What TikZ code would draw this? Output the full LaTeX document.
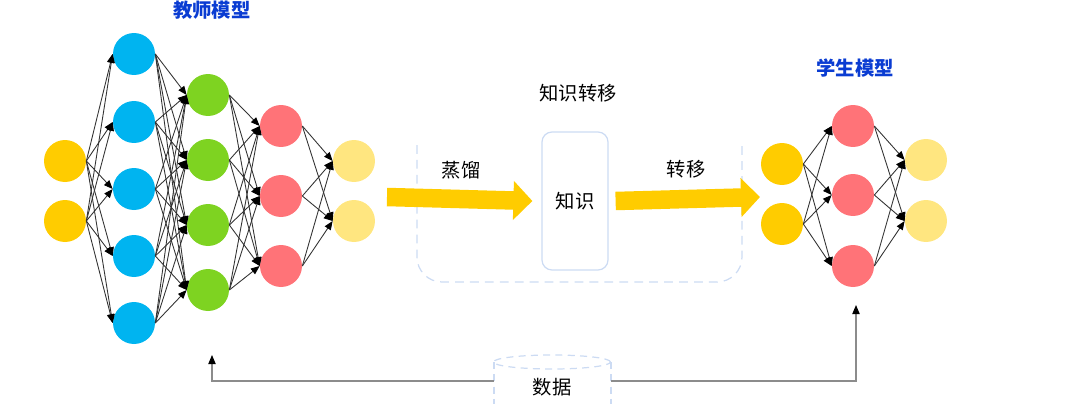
\documentclass[tikz,border=0pt]{standalone}
\usepackage{fontspec}
\usepackage{tikz}
\usetikzlibrary{arrows.meta}
\newfontfamily\cjk{Noto Sans CJK SC}
\definecolor{inyel}{HTML}{FFCC00}
\definecolor{bluec}{HTML}{00B4F0}
\definecolor{greenc}{HTML}{7ED321}
\definecolor{redc}{HTML}{FF7378}
\definecolor{outyel}{HTML}{FFE680}
\definecolor{titlec}{HTML}{0A3CD2}
\definecolor{edgec}{HTML}{333333}
\definecolor{framec}{HTML}{CCDBF3}
\definecolor{feedc}{HTML}{8C8C8C}

\tikzset{
  neuron/.style={circle, minimum size=0.84cm, inner sep=0pt},
  synapse/.style={draw=edgec, line width=0.5pt, -{Triangle[length=5pt,width=4pt,color=black]}},
  title/.style={text=titlec, font=\cjk\fontsize{11pt}{13pt}\selectfont\bfseries},
  label/.style={font=\cjk\fontsize{11pt}{13pt}\selectfont},
  flow/.style={draw=inyel, line width=0.37cm, -{Triangle[length=0.38cm,width=0.76cm]}},
  feed/.style={draw=feedc, line width=0.6pt, -{Triangle[length=5.2pt,width=4.2pt,color=black]}},
  frame/.style={draw=framec, line width=0.7pt}
}

\begin{document}
\begin{tikzpicture}[x=0.02cm, y=-0.02cm]
  \useasboundingbox (0,0) rectangle (1080,403);

  % teacher network
  \foreach \y [count=\i] in {161,221} \node[neuron, fill=inyel] (ti\i) at (65,\y) {};
  \foreach \y [count=\i] in {54,122,189,256,323} \node[neuron, fill=bluec] (tb\i) at (134,\y) {};
  \foreach \y [count=\i] in {95,160,225,290} \node[neuron, fill=greenc] (tg\i) at (208,\y) {};
  \foreach \y [count=\i] in {126,196,266} \node[neuron, fill=redc] (tr\i) at (281,\y) {};
  \foreach \y [count=\i] in {161,221} \node[neuron, fill=outyel] (to\i) at (354,\y) {};

  \foreach \a in {1,2} \foreach \b in {1,...,5} \draw[synapse] (ti\a.east) -- (tb\b.west);
  \foreach \a in {1,...,5} \foreach \b in {1,...,4} \draw[synapse] (tb\a.east) -- (tg\b.west);
  \foreach \a in {1,...,4} \foreach \b in {1,2,3} \draw[synapse] (tg\a.east) -- (tr\b.west);
  \foreach \a in {1,2,3} \foreach \b in {1,2} \draw[synapse] (tr\a.east) -- (to\b.west);

  \node[title] (teacher) at (212,10) {教师模型};

  % student network
  \foreach \y [count=\i] in {164,224} \node[neuron, fill=inyel] (si\i) at (782,\y) {};
  \foreach \y [count=\i] in {126,195,266} \node[neuron, fill=redc] (sr\i) at (853,\y) {};
  \foreach \y [count=\i] in {160,221} \node[neuron, fill=outyel] (so\i) at (926,\y) {};

  \foreach \a in {1,2} \foreach \b in {1,2,3} \draw[synapse] (si\a.east) -- (sr\b.west);
  \foreach \a in {1,2,3} \foreach \b in {1,2} \draw[synapse] (sr\a.east) -- (so\b.west);

  \node[title] (student) at (855,68) {学生模型};

  % knowledge transfer
  \draw[frame, dash pattern=on 5pt off 3.5pt, rounded corners=0.5cm] (417,145) -- (417,282) -- (742,282) -- (742,145);
  \node[label] (transfer) at (578,93) {知识转移};
  \node[frame, draw, rounded corners=0.2cm, minimum width=1.32cm, minimum height=2.76cm, label] (know) at (575,201) {知识};

  \coordinate (distIn) at (387,197);
  \coordinate (transOut) at (760,197);
  \draw[flow] (distIn) -- ([xshift=-0.18cm]know.west);
  \draw[flow] ([xshift=0.14cm]know.east) -- (transOut);
  \node[label] (distil) at (461,170) {蒸馏};
  \node[label] (move) at (686,169) {转移};

  % data
  \draw[frame, dash pattern=on 4pt off 3pt] (552,362) ellipse [x radius=1.17cm, y radius=0.14cm];
  \draw[frame, dash pattern=on 4pt off 3pt] (494,362) -- (494,410) (611,362) -- (611,410);
  \node[label] (data) at (552,387) {数据};

  \coordinate (dataL) at (494,381);
  \coordinate (dataR) at (611,381);
  \coordinate (teachFeed) at (212,355);
  \coordinate (studFeed) at (856,305);
  \draw[feed] (dataL) -| (teachFeed);
  \draw[feed] (dataR) -| (studFeed);
\end{tikzpicture}
\end{document}
